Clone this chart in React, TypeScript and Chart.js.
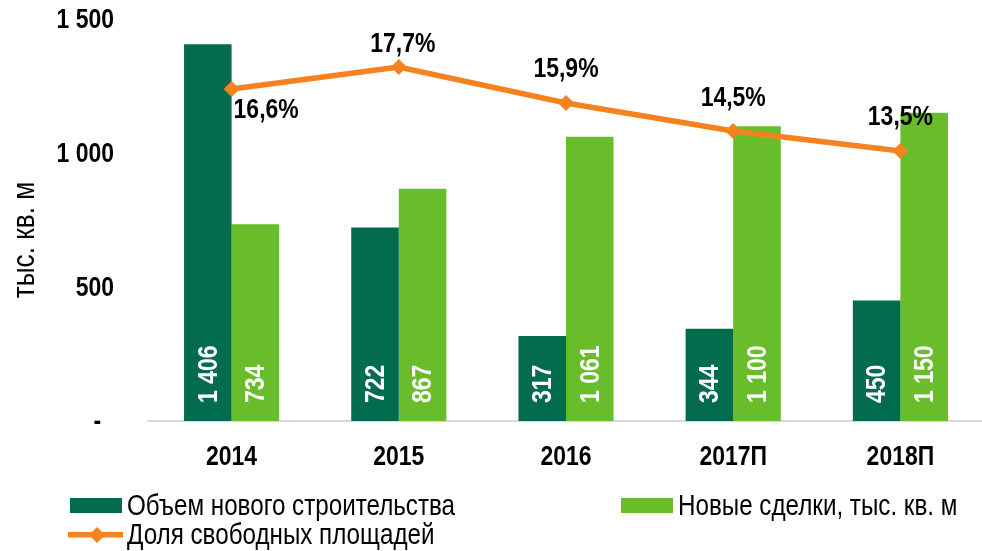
import React, { useEffect, useRef } from 'react';
import { Chart, registerables } from 'chart.js';

Chart.register(...registerables);

const categories = ['2014', '2015', '2016', '2017П', '2018П'];
const newConstruction = [1406, 722, 317, 344, 450];
const newDeals = [734, 867, 1061, 1100, 1150];
const vacancyRate = [16.6, 17.7, 15.9, 14.5, 13.5];
const yTicks = [0, 500, 1000, 1500];
const seriesNames = ['Объем нового строительства', 'Новые сделки, тыс. кв. м', 'Доля свободных площадей'];
const axisTitle = 'тыс. кв. м';

const FONT = "'Liberation Sans', Arial, sans-serif";
const NARROW = 0.82;
const DARK = '#036b4e';
const LIGHT = '#6abd2a';
const ORANGE = '#f5821f';

const fmt = (v: number) => v.toString().replace(/\B(?=(\d{3})+(?!\d))/g, ' ');
const fmtPct = (v: number) => v.toFixed(1).replace('.', ',') + '%';

// label placement relative to each line point: [dx, dy, align]
const pctOffsets: [number, number, CanvasTextAlign][] = [
  [2, 21, 'left'],
  [4, -23, 'center'],
  [0, -34, 'center'],
  [0, -33, 'center'],
  [0, -34, 'center'],
];

function narrowText(
  ctx: CanvasRenderingContext2D,
  text: string,
  x: number,
  y: number,
  align: CanvasTextAlign,
  baseline: CanvasTextBaseline,
  font: string,
  color: string,
  rot = 0
) {
  ctx.save();
  ctx.translate(x, y);
  if (rot) ctx.rotate(rot);
  ctx.scale(NARROW, 1);
  ctx.font = font;
  ctx.fillStyle = color;
  ctx.textAlign = align;
  ctx.textBaseline = baseline;
  ctx.fillText(text, 0, 0);
  ctx.restore();
}

function diamond(ctx: CanvasRenderingContext2D, x: number, y: number, r: number, color: string) {
  ctx.beginPath();
  ctx.moveTo(x, y - r);
  ctx.lineTo(x + r, y);
  ctx.lineTo(x, y + r);
  ctx.lineTo(x - r, y);
  ctx.closePath();
  ctx.fillStyle = color;
  ctx.fill();
}

const BOLD = `bold 28px ${FONT}`;

const labelsPlugin = {
  id: 'customLabels',
  afterDatasetsDraw(chart: any) {
    const ctx = chart.ctx as CanvasRenderingContext2D;
    ctx.save();
    // values inside bars
    [0, 1].forEach((di) => {
      const meta = chart.getDatasetMeta(di);
      meta.data.forEach((el: any, i: number) => {
        const v = chart.data.datasets[di].data[i] as number;
        narrowText(ctx, fmt(v), el.x + 1, el.base - 18, 'left', 'middle', BOLD, '#ffffff', -Math.PI / 2);
      });
    });
    // percentages
    const lm = chart.getDatasetMeta(2);
    lm.data.forEach((pt: any, i: number) => {
      const [dx, dy, al] = pctOffsets[i];
      narrowText(ctx, fmtPct(vacancyRate[i]), pt.x + dx, pt.y + dy, al, 'middle', BOLD, '#000000');
    });
    // y tick labels
    const ys = chart.scales.y;
    yTicks.forEach((v) => {
      const label = v === 0 ? '-  ' : fmt(v);
      narrowText(ctx, label, 114, ys.getPixelForValue(v) + 1, 'right', 'middle', BOLD, '#000000');
    });
    // x tick labels
    const xs = chart.scales.x;
    categories.forEach((c, i) => {
      narrowText(ctx, c, xs.getPixelForValue(i), 457, 'center', 'middle', BOLD, '#000000');
    });
    // axis title
    narrowText(ctx, axisTitle, 25, 240, 'center', 'middle', `32px ${FONT}`, '#000000', -Math.PI / 2);
    // legend
    const LF = `29.5px ${FONT}`;
    ctx.fillStyle = DARK;
    ctx.fillRect(70, 498, 52, 15);
    narrowText(ctx, seriesNames[0], 127, 515, 'left', 'alphabetic', LF, '#000000');
    ctx.fillStyle = LIGHT;
    ctx.fillRect(621, 498, 52, 15);
    narrowText(ctx, seriesNames[1], 678, 515, 'left', 'alphabetic', LF, '#000000');
    ctx.fillStyle = ORANGE;
    ctx.fillRect(68, 532, 55, 5.5);
    diamond(ctx, 97, 535, 8, ORANGE);
    narrowText(ctx, seriesNames[2], 127, 544, 'left', 'alphabetic', LF, '#000000');
    ctx.restore();
  },
};

export default function App() {
  const ref = useRef<HTMLCanvasElement | null>(null);
  useEffect(() => {
    if (!ref.current) return;
    const chart = new Chart(ref.current, {
      type: 'bar',
      data: {
        labels: categories,
        datasets: [
          {
            type: 'bar',
            label: seriesNames[0],
            data: newConstruction,
            backgroundColor: DARK,
            yAxisID: 'y',
            order: 1,
            categoryPercentage: 0.569,
            barPercentage: 1,
          },
          {
            type: 'bar',
            label: seriesNames[1],
            data: newDeals,
            backgroundColor: LIGHT,
            yAxisID: 'y',
            order: 1,
            categoryPercentage: 0.569,
            barPercentage: 1,
          },
          {
            type: 'line',
            label: seriesNames[2],
            data: vacancyRate,
            borderColor: ORANGE,
            backgroundColor: ORANGE,
            borderWidth: 5.5,
            pointStyle: 'rectRot',
            pointRadius: 8,
            pointBorderWidth: 0,
            pointBackgroundColor: ORANGE,
            tension: 0,
            yAxisID: 'y2',
            order: 0,
          } as any,
        ],
      },
      options: {
        animation: false,
        responsive: false,
        layout: { padding: { top: 19, left: 0, right: 0, bottom: 0 } },
        plugins: {
          legend: { display: false },
          tooltip: { enabled: false },
        },
        scales: {
          x: {
            grid: { display: false, drawTicks: false },
            border: { display: true, color: '#d9d9d9', width: 2 },
            ticks: { display: false },
            afterFit: (s: any) => {
              s.height = 130;
              s.paddingLeft = 0;
              s.paddingRight = 0;
            },
          },
          y: {
            min: 0,
            max: 1500,
            afterBuildTicks: (s: any) => {
              s.ticks = yTicks.map((v) => ({ value: v }));
            },
            grid: { display: false, drawTicks: false },
            border: { display: false },
            ticks: { display: false },
            afterFit: (s: any) => {
              s.width = 148;
              s.paddingTop = 0;
              s.paddingBottom = 0;
            },
          },
          y2: {
            display: false,
            min: 0,
            max: 20.1,
            position: 'right',
          },
        },
      },
      plugins: [labelsPlugin],
    });
    return () => chart.destroy();
  }, []);

  return (
    <div
      style={{
        position: 'fixed',
        left: 0,
        top: 0,
        width: 982,
        height: 551,
        overflow: 'hidden',
        background: '#fff',
      }}
    >
      <canvas ref={ref} width={992} height={551} style={{ position: 'absolute', left: 0, top: 0 }} />
    </div>
  );
}
